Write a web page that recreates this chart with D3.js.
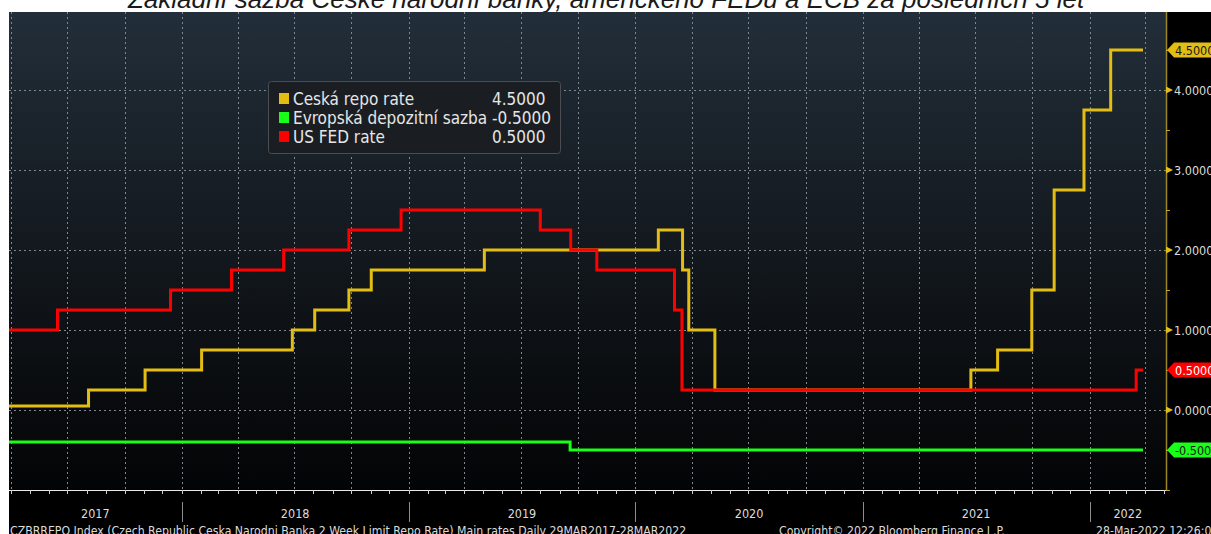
<!DOCTYPE html>
<meta charset="utf-8">
<head>
    <title>Sazby CNB, FED a ECB</title>
</head>
<style>
 body { margin: 0; background: white; }
 #chart { position: fixed; left: 0; top: 0; }
 .grid line { stroke: #80878f; stroke-width: 1px; stroke-dasharray: 2,3; }
 .series { fill: none; stroke-width: 3px; stroke-linejoin: miter; }
 .lbl { font-family: "DejaVu Sans Condensed", "DejaVu Sans", sans-serif; fill: #dcdcdc; }
</style>
<body>
    <div id="chart"></div>
    <script src="https://d3js.org/d3.v7.min.js"></script>
    <script>

     // step changes of each rate (date of change, new level)
     var czDates  = ["2017-03-29","2017-08-04","2017-11-03","2018-02-02","2018-06-28","2018-08-03",
                     "2018-09-27","2018-11-02","2019-05-03","2020-02-07","2020-03-17","2020-03-27",
                     "2020-05-08","2021-06-24","2021-08-06","2021-09-30","2021-11-05","2021-12-23",
                     "2022-02-04"];
     var czValues = [0.05, 0.25, 0.50, 0.75, 1.00, 1.25, 1.50, 1.75, 2.00, 2.25, 1.75, 1.00,
                     0.25, 0.50, 0.75, 1.50, 2.75, 3.75, 4.50];

     var ecbDates  = ["2017-03-29","2019-09-18"];
     var ecbValues = [-0.40, -0.50];

     var usDates  = ["2017-03-29","2017-06-15","2017-12-14","2018-03-22","2018-06-14","2018-09-27",
                     "2018-12-20","2019-08-01","2019-09-19","2019-10-31","2020-03-04","2020-03-16",
                     "2022-03-17"];
     var usValues = [1.00, 1.25, 1.50, 1.75, 2.00, 2.25, 2.50, 2.25, 2.00, 1.75, 1.25, 0.25, 0.50];

     var seriesNames  = ["Ceská repo rate", "Evropská depozitní sazba", "US FED rate"];
     var seriesColors = ["#e3bd12", "#19ff19", "#ff0000"];

     var lastDate  = "2022-03-28";
     var yTicks    = [0, 1, 2, 3, 4];
     var yearTicks = ["2017", "2018", "2019", "2020", "2021", "2022"];
     var titleText = "Základní sazba České národní banky, amerického FEDu a ECB za posledních 5 let";
     var footer1 = "CZBRREPO Index (Czech Republic Ceska Narodni Banka 2 Week Limit Repo Rate) Main rates  Daily 29MAR2017-28MAR2022";
     var footer2 = "Copyright\u00a9 2022 Bloomberg Finance L.P.";
     var footer3 = "28-Mar-2022 12:26:00";

     var width = 1211, height = 534;
     var plot = {left: 9, right: 1166, top: 12, bottom: 490};

     var parse = d3.timeParse("%Y-%m-%d");

     function toSeries(dates, values) {
         var pts = dates.map(function(d, i) { return {date: parse(d), value: values[i]}; });
         pts.push({date: parse(lastDate), value: values[values.length - 1]});
         return pts;
     }

     var series = [toSeries(czDates, czValues),
                   toSeries(ecbDates, ecbValues),
                   toSeries(usDates, usValues)];

     var x = d3.scaleTime()
               .domain([parse("2017-03-29"), parse("2022-05-04")])
               .range([plot.left, plot.right]);

     var y = d3.scaleLinear()
               .domain([-1, 4.975])
               .range([plot.bottom, plot.top]);

     var svg = d3.select("#chart").append("svg")
                 .attr("width", width)
                 .attr("height", height);

     var defs = svg.append("defs");
     var grad = defs.append("linearGradient")
                    .attr("id", "bg")
                    .attr("x1", 0).attr("y1", 0)
                    .attr("x2", 0).attr("y2", 1);
     grad.append("stop").attr("offset", "0%").attr("stop-color", "#222e39");
     grad.append("stop").attr("offset", "55%").attr("stop-color", "#11161b");
     grad.append("stop").attr("offset", "100%").attr("stop-color", "#030405");

     svg.append("rect")
        .attr("width", width).attr("height", height)
        .attr("fill", "white");

     // title, cut off by the top of the picture
     svg.append("text")
        .attr("x", 606)
        .attr("y", 8)
        .attr("text-anchor", "middle")
        .style("font-family", "'Liberation Sans', Arial, sans-serif")
        .style("font-style", "italic")
        .style("font-size", "26px")
        .attr("fill", "#1a1a1a")
        .text(titleText);

     svg.append("rect")
        .attr("x", plot.left).attr("y", plot.top)
        .attr("width", width - plot.left).attr("height", height - plot.top)
        .attr("fill", "black");

     svg.append("rect")
        .attr("x", plot.left).attr("y", plot.top)
        .attr("width", plot.right - plot.left).attr("height", plot.bottom - plot.top)
        .attr("fill", "url(#bg)");

     // grid
     var quarters = d3.timeMonth.every(3).range(x.domain()[0], x.domain()[1]);
     var grid = svg.append("g").attr("class", "grid");
     grid.selectAll("line.v")
         .data(quarters)
         .enter().append("line")
         .attr("class", "v")
         .attr("x1", function(d) { return Math.round(x(d)) + 0.5; })
         .attr("x2", function(d) { return Math.round(x(d)) + 0.5; })
         .attr("y1", plot.top)
         .attr("y2", plot.bottom);
     grid.selectAll("line.h")
         .data(yTicks)
         .enter().append("line")
         .attr("class", "h")
         .attr("x1", plot.left)
         .attr("x2", plot.right)
         .attr("y1", function(d) { return Math.round(y(d)) + 0.5; })
         .attr("y2", function(d) { return Math.round(y(d)) + 0.5; });

     // lines
     var line = d3.line()
                  .x(function(d) { return x(d.date); })
                  .y(function(d) { return y(d.value); })
                  .curve(d3.curveStepAfter);

     svg.append("g")
        .selectAll("path")
        .data(series)
        .enter().append("path")
        .attr("class", "series")
        .attr("stroke", function(d, i) { return seriesColors[i]; })
        .attr("d", line);

     // legend
     var fmt = function(v) { return d3.format(".4f")(v).replace("\u2212", "-"); };
     var legend = svg.append("g").attr("transform", "translate(268,81)");
     legend.append("rect")
           .attr("x", 0.5).attr("y", 0.5)
           .attr("width", 292).attr("height", 72)
           .attr("rx", 3)
           .attr("fill", "#1a1e22")
           .attr("stroke", "#4a4e52");
     var items = legend.selectAll("g.item")
                       .data(seriesNames)
                       .enter().append("g")
                       .attr("transform", function(d, i) { return "translate(0," + (18 + i * 19) + ")"; });
     items.append("rect")
          .attr("x", 11).attr("y", -6)
          .attr("width", 10).attr("height", 11)
          .attr("fill", function(d, i) { return seriesColors[i]; });
     items.append("text")
          .attr("class", "lbl")
          .attr("x", 25).attr("y", 6)
          .style("font-size", "17px")
          .style("fill", "#e6e6e6")
          .text(function(d) { return d; });
     items.append("text")
          .attr("class", "lbl")
          .attr("x", 224)
          .attr("y", 6)
          .style("font-size", "17px")
          .style("fill", "#e6e6e6")
          .text(function(d, i) { return fmt(series[i][series[i].length - 1].value); });

     // right axis
     var axisColor = "#9a8624";
     svg.append("line")
        .attr("x1", plot.right + 0.5).attr("x2", plot.right + 0.5)
        .attr("y1", plot.top).attr("y2", plot.bottom)
        .attr("stroke", axisColor).attr("stroke-width", 1.5);
     svg.append("g")
        .selectAll("line")
        .data(d3.range(-2, 10).map(function(k) { return k / 2; }))
        .enter().append("line")
        .attr("x1", plot.right).attr("x2", plot.right + 4)
        .attr("y1", function(d) { return Math.round(y(d)) + 0.5; })
        .attr("y2", function(d) { return Math.round(y(d)) + 0.5; })
        .attr("stroke", "#c8a818");
     var yl = svg.append("g")
                 .selectAll("g")
                 .data(yTicks)
                 .enter().append("g")
                 .attr("transform", function(d) { return "translate(" + plot.right + "," + Math.round(y(d)) + ")"; });
     yl.append("path")
       .attr("d", "M0,-3.5L7,0L0,3.5Z")
       .attr("fill", "#e3bd12");
     yl.append("text")
       .attr("class", "lbl")
       .attr("x", 8).attr("y", 4.5)
       .style("font-size", "12.5px")
       .text(function(d) { return fmt(d); });

     // value tags
     var tagText = ["#1a1a1a", "#1a1a1a", "#ffffff"];
     var tags = svg.append("g")
                   .selectAll("g")
                   .data(series)
                   .enter().append("g")
                   .attr("transform", function(d) { return "translate(" + (plot.right + 1) + "," + Math.round(y(d[d.length - 1].value)) + ")"; });
     tags.append("path")
         .attr("d", "M0,0L7,-7.5L50,-7.5L50,7.5L7,7.5Z")
         .attr("fill", function(d, i) { return seriesColors[i]; });
     tags.append("text")
         .attr("class", "lbl")
         .attr("x", 8).attr("y", 4.5)
         .style("font-size", "12.5px")
         .style("fill", function(d, i) { return tagText[i]; })
         .text(function(d) { return fmt(d[d.length - 1].value); });

     // bottom axis
     svg.append("line")
        .attr("x1", plot.left).attr("x2", plot.right)
        .attr("y1", plot.bottom + 0.5).attr("y2", plot.bottom + 0.5)
        .attr("stroke", "#e8e8e8").attr("stroke-width", 1.2);
     svg.append("g")
        .selectAll("line")
        .data(d3.timeMonth.range(x.domain()[0], x.domain()[1]))
        .enter().append("line")
        .attr("x1", function(d) { return Math.round(x(d)) + 0.5; })
        .attr("x2", function(d) { return Math.round(x(d)) + 0.5; })
        .attr("y1", plot.bottom).attr("y2", plot.bottom + 4)
        .attr("stroke", "#d0d0d0");

     var years = yearTicks.map(function(s) { return d3.timeParse("%Y")(s); });
     svg.append("g")
        .selectAll("line")
        .data(years.slice(1))
        .enter().append("line")
        .attr("x1", function(d) { return Math.round(x(d)) + 0.5; })
        .attr("x2", function(d) { return Math.round(x(d)) + 0.5; })
        .attr("y1", 502).attr("y2", 522)
        .attr("stroke", "#8c8c8c");
     svg.append("g")
        .selectAll("text")
        .data(years)
        .enter().append("text")
        .attr("class", "lbl")
        .attr("x", function(d, i) {
            var a = Math.max(x(d), plot.left);
            var b = i < years.length - 1 ? x(years[i + 1]) : plot.right;
            return (a + b) / 2;
        })
        .attr("y", 518)
        .attr("text-anchor", "middle")
        .style("font-size", "12.5px")
        .text(function(d, i) { return yearTicks[i]; });

     // footer
     var foot = svg.append("g").style("font-size", "12.2px");
     foot.append("text").attr("class", "lbl").attr("x", 10).attr("y", 535).text(footer1);
     foot.append("text").attr("class", "lbl").attr("x", 779).attr("y", 535).text(footer2);
     foot.append("text").attr("class", "lbl").attr("x", 1096).attr("y", 535).text(footer3);

    </script>
</body>
